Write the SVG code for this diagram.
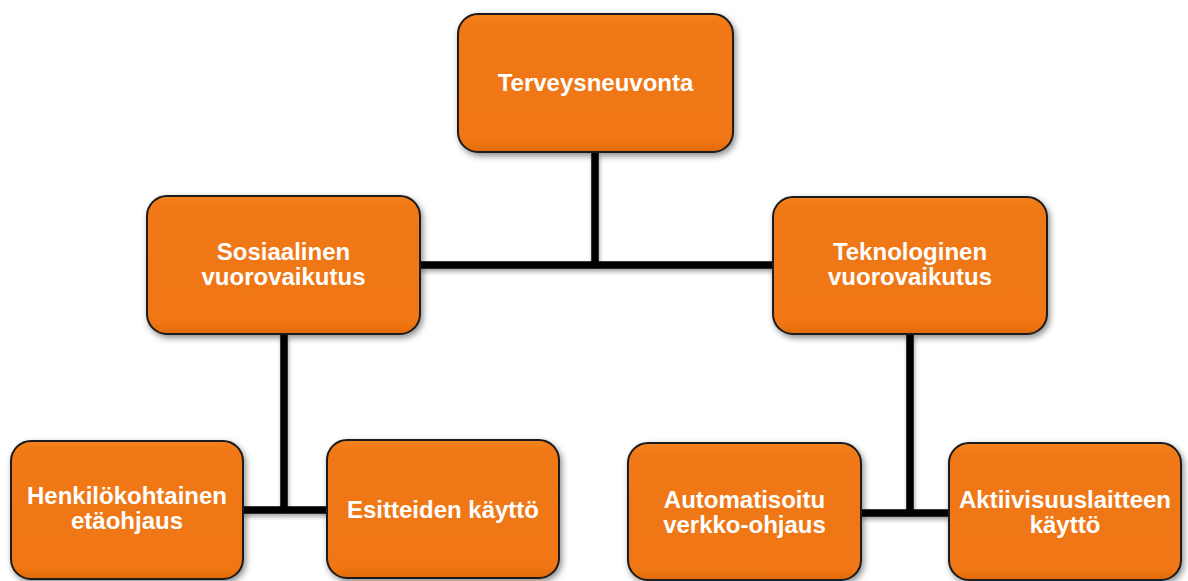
<svg xmlns="http://www.w3.org/2000/svg" width="1188" height="581" viewBox="0 0 1188 581">
<defs>
<linearGradient id="g" x1="0" y1="0" x2="0" y2="1">
<stop offset="0" stop-color="#F3831E"/>
<stop offset="0.08" stop-color="#F07813"/>
<stop offset="0.92" stop-color="#F07612"/>
<stop offset="1" stop-color="#E06A0C"/>
</linearGradient>
<filter id="sh" x="-10%" y="-10%" width="125%" height="130%">
<feDropShadow dx="2" dy="3" stdDeviation="3" flood-color="#000" flood-opacity="0.45"/>
</filter>
<filter id="lsh" x="-10%" y="-10%" width="120%" height="140%">
<feDropShadow dx="1" dy="3" stdDeviation="2" flood-color="#000" flood-opacity="0.35"/>
</filter>
</defs>
<style>
.box{fill:url(#g);stroke:#1a1a1a;stroke-width:2;filter:url(#sh)}
.lbl{font-family:"Liberation Sans",Arial,sans-serif;font-weight:bold;font-size:24px;fill:#fff;text-anchor:middle}
.c{stroke:#000;stroke-width:7.5;fill:none;stroke-linecap:butt}
</style>
<rect width="1188" height="581" fill="#fff"/>
<g id="connectors" filter="url(#lsh)">
<path class="c" d="M595 152V265M420 265H773"/>
<path class="c" d="M284 334V510M243 510H327"/>
<path class="c" d="M910 334V513M861 513H949"/>
</g>
<g id="n-terveysneuvonta">
<rect class="box" x="458" y="14" width="275" height="138" rx="20"/>
<text class="lbl" x="595.5" y="91">Terveysneuvonta</text>
</g>
<g id="n-sosiaalinen">
<rect class="box" x="147" y="196" width="273" height="138" rx="20"/>
<text class="lbl" x="283.5" y="260">Sosiaalinen</text>
<text class="lbl" x="283.5" y="285">vuorovaikutus</text>
</g>
<g id="n-teknologinen">
<rect class="box" x="773" y="197" width="274" height="137" rx="20"/>
<text class="lbl" x="910" y="260">Teknologinen</text>
<text class="lbl" x="910" y="285">vuorovaikutus</text>
</g>
<g id="n-henkilokohtainen">
<rect class="box" x="11" y="441" width="232" height="138" rx="20"/>
<text class="lbl" x="127" y="504">Henkilökohtainen</text>
<text class="lbl" x="127" y="529">etäohjaus</text>
</g>
<g id="n-esitteiden">
<rect class="box" x="327" y="440" width="232" height="138" rx="20"/>
<text class="lbl" x="443" y="518">Esitteiden käyttö</text>
</g>
<g id="n-automatisoitu">
<rect class="box" x="628" y="443" width="233" height="137" rx="20"/>
<text class="lbl" x="744.5" y="508">Automatisoitu</text>
<text class="lbl" x="744.5" y="533">verkko-ohjaus</text>
</g>
<g id="n-aktiivisuus">
<rect class="box" x="949" y="443" width="232" height="137" rx="20"/>
<text class="lbl" x="1065" y="508">Aktiivisuuslaitteen</text>
<text class="lbl" x="1065" y="533">käyttö</text>
</g>
</svg>
